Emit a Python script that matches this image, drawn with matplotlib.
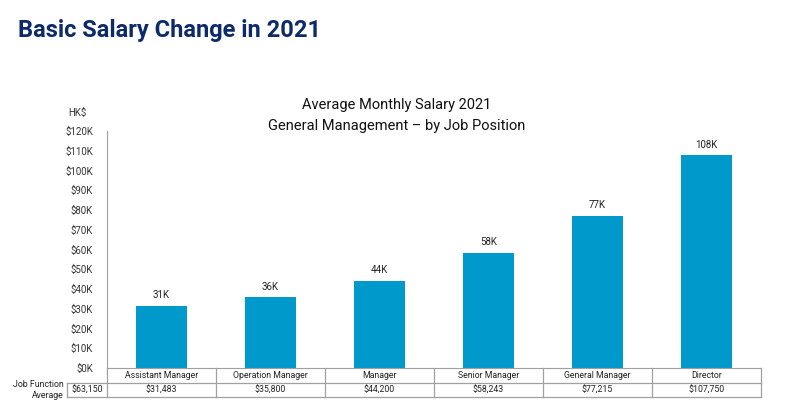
import matplotlib
matplotlib.use("Agg")
import matplotlib.pyplot as plt
import matplotlib.transforms as mtransforms

plt.rcParams['font.family'] = ['Roboto', 'DejaVu Sans']

positions = ["Assistant Manager", "Operation Manager", "Manager",
             "Senior Manager", "General Manager", "Director"]
salaries = [31483, 35800, 44200, 58243, 77215, 107750]
bar_labels = ["31K", "36K", "44K", "58K", "77K", "108K"]
table_values = ["$31,483", "$35,800", "$44,200", "$58,243", "$77,215", "$107,750"]
function_average = "$63,150"
yticks = list(range(0, 120001, 10000))
ytick_labels = ["$%dK" % (v // 1000) for v in yticks]

W, H = 790, 411
fig = plt.figure(figsize=(W / 100, H / 100), dpi=100)

def fx(px):
    return px / W

def fy(py):
    return 1 - py / H

ax_left, ax_right, ax_top, ax_bottom = 107, 761, 131, 368
ax = fig.add_axes([fx(ax_left), fy(ax_bottom), fx(ax_right - ax_left), fy(ax_top) - fy(ax_bottom)])

bar_color = "#0099CC"
x = list(range(len(positions)))
bars = ax.bar(x, salaries, width=0.46, color=bar_color, zorder=2)
for xi, v, lab in zip(x, salaries, bar_labels):
    ax.annotate(lab, (xi, v), xytext=(0, 4), textcoords="offset points",
                ha="center", va="bottom", fontsize=7, color="#222222")

ax.set_xlim(-0.5, len(positions) - 0.5)
ax.set_ylim(0, 120000)
ax.set_yticks(yticks)
ax.set_yticklabels(ytick_labels, fontsize=7, color="#333333")
ax.tick_params(axis="y", length=0, pad=10)
ax.set_xticks([])
for s in ["top", "right"]:
    ax.spines[s].set_visible(False)
ax.spines["left"].set_color("#A0A0A0")
ax.spines["bottom"].set_color("#A0A0A0")

# HK$ label
fig.text(fx(68), fy(113), "HK$", fontsize=7, color="#333333", ha="left", va="center")

# Chart titles
fig.text(fx(397), fy(105), "Average Monthly Salary 2021", fontsize=10.5, color="#111111",
         ha="center", va="center")
fig.text(fx(397), fy(126), "General Management \u2013 by Job Position", fontsize=10.5,
         color="#111111", ha="center", va="center")

# Main title
fig.text(fx(18), fy(30), "Basic Salary Change in 2021", fontsize=17, fontweight="bold",
         color="#0D2A6B", ha="left", va="center")

# Table below
grid_c = "#A0A0A0"
row1_top, row1_bot, row2_bot = 368, 383, 397
trans = mtransforms.blended_transform_factory(ax.transData, fig.transFigure)
n = len(positions)
for edge in [i - 0.5 for i in range(n + 1)]:
    ax.plot([edge, edge], [fy(row1_top), fy(row2_bot)], transform=trans,
            color=grid_c, lw=0.9, clip_on=False)
for yy in [row1_bot, row2_bot]:
    fig.add_artist(plt.Line2D([fx(67), fx(ax_right)], [fy(yy), fy(yy)],
                              color=grid_c, lw=0.9))
fig.add_artist(plt.Line2D([fx(67), fx(67)], [fy(row1_bot), fy(row2_bot)], color=grid_c, lw=0.9))
for xi, name, val in zip(x, positions, table_values):
    ax.text(xi, fy((row1_top + row1_bot) / 2), name, transform=trans, ha="center",
            va="center", fontsize=6.3, color="#222222")
    ax.text(xi, fy((row1_bot + row2_bot) / 2), val, transform=trans, ha="center",
            va="center", fontsize=6.3, color="#222222")
fig.text(fx(87), fy((row1_bot + row2_bot) / 2), function_average, ha="center", va="center",
         fontsize=6.3, color="#222222")
fig.text(fx(64), fy(384), "Job Function", ha="right", va="center", fontsize=6.3, color="#222222")
fig.text(fx(64), fy(395), "Average", ha="right", va="center", fontsize=6.3, color="#222222")

fig.savefig("out.png", dpi=100)
